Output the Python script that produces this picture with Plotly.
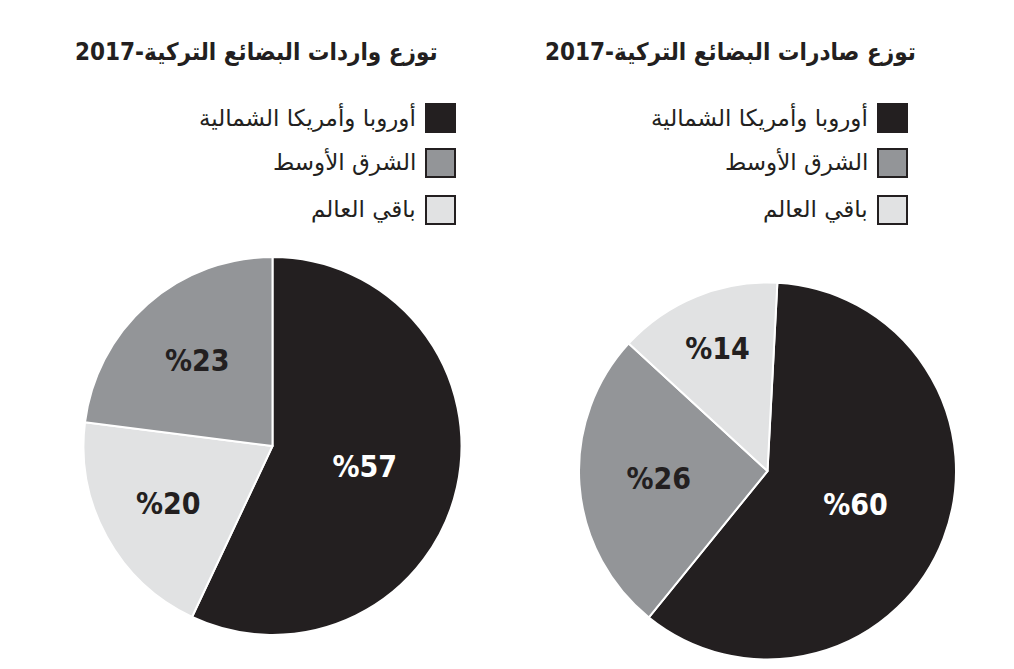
import plotly.graph_objects as go

# الفئات والقيم
categories = ["أوروبا وأمريكا الشمالية", "الشرق الأوسط", "باقي العالم"]
colors = ["#231f20", "#939598", "#e1e2e3"]

imports_values = [57, 23, 20]   # الواردات
exports_values = [60, 26, 14]   # الصادرات

# ترتيب الشرائح باتجاه عقارب الساعة من الأعلى
imports_order = [0, 2, 1]
exports_order = [0, 1, 2]

titles = ["توزع واردات البضائع التركية-2017", "توزع صادرات البضائع التركية-2017"]

# الصفحة فيها هامش 8 بكسل حول الرسم
PAD = 8
W, H = 1014 - 2 * PAD, 669 - 2 * PAD


def px(x):
    return (x - PAD) / W


def py(y):
    return 1 - (y - PAD) / H


pct_font = "Liberation Sans Narrow, DejaVu Sans Condensed, Roboto Condensed, sans-serif"
title_font = "DejaVu Sans Condensed, DejaVu Sans, sans-serif"

fig = go.Figure()


def add_pie(values, order, dom_x, dom_y, rotation):
    labs = [categories[i] for i in order]
    vals = [values[i] for i in order]
    cols = [colors[i] for i in order]
    txt_cols = ["white" if c == "#231f20" else "#231f20" for c in cols]
    fig.add_trace(go.Pie(
        labels=labs,
        values=vals,
        sort=False,
        direction="clockwise",
        rotation=rotation,
        marker=dict(colors=cols, line=dict(color="white", width=2)),
        texttemplate="%%{value}",
        textposition="inside",
        insidetextorientation="horizontal",
        textfont=dict(family=pct_font, size=30, color=txt_cols, weight="bold"),
        hoverinfo="label+percent",
        domain=dict(x=dom_x, y=dom_y),
        showlegend=False,
    ))


add_pie(imports_values, imports_order, [px(83), px(462)], [py(635), py(257)], 0)
add_pie(exports_values, exports_order, [px(579), px(956)], [py(660), py(282)], 3)

# العناوين
title_right_edges = [440, 918]
for t, xr in zip(titles, title_right_edges):
    fig.add_annotation(
        text=t, x=px(xr), y=py(52), xref="paper", yref="paper",
        xanchor="right", yanchor="middle", showarrow=False,
        font=dict(family=title_font, size=24, color="#231f20", weight="bold"),
    )

# وسيلة الإيضاح لكل مخطط
square_lefts = [426, 878]
row_tops = [104, 149, 196]
for sx in square_lefts:
    for i, ty in enumerate(row_tops):
        fig.add_shape(
            type="rect", xref="paper", yref="paper",
            x0=px(sx), x1=px(sx + 29), y0=py(ty + 28), y1=py(ty),
            fillcolor=colors[i] if i else "#231f20",
            line=dict(color="#231f20", width=2),
        )
        fig.add_annotation(
            text=categories[i], x=px(sx - 8), y=py(ty + 13),
            xref="paper", yref="paper", xanchor="right", yanchor="middle",
            showarrow=False,
            font=dict(family="DejaVu Sans", size=23, color="#231f20"),
        )

fig.update_layout(
    width=W, height=H,
    margin=dict(l=0, r=0, t=0, b=0),
    paper_bgcolor="white",
    plot_bgcolor="white",
)

fig.write_html("out.html")
